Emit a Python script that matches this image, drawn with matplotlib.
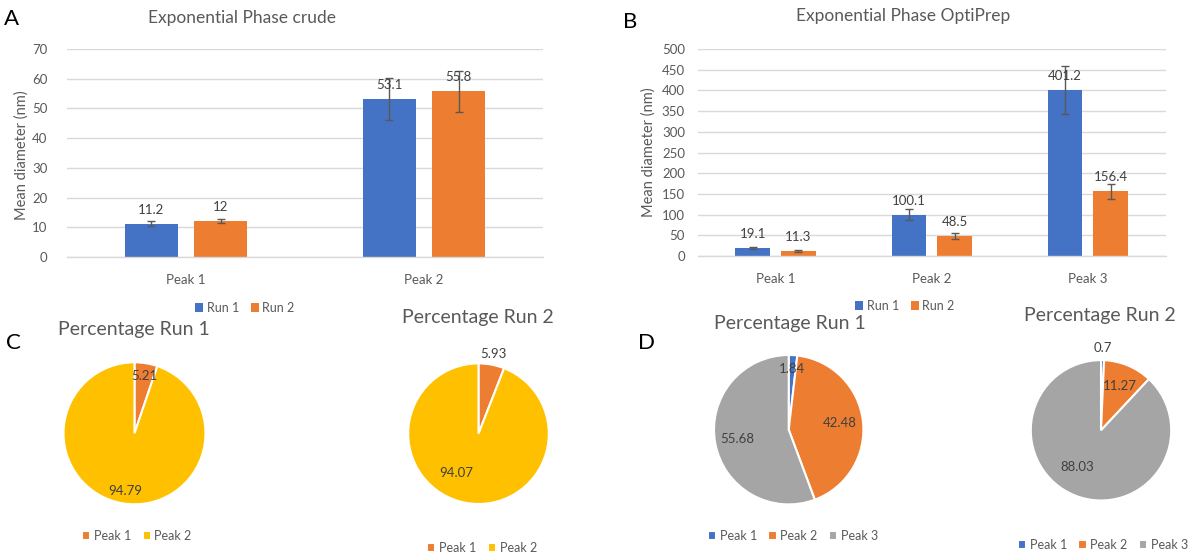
import numpy as np
import matplotlib
matplotlib.use('Agg')
import matplotlib.pyplot as plt

plt.rcParams['font.family'] = ['Lato', 'DejaVu Sans']

runs = ['Run 1', 'Run 2']

# mean diameter (nm) with error bars, crude prep
crude_peaks = ['Peak 1', 'Peak 2']
crude_run1 = [11.2, 53.1]
crude_run2 = [12, 55.8]
crude_err1 = [0.8, 7.0]
crude_err2 = [0.7, 6.9]

# mean diameter (nm) with error bars, OptiPrep
opti_peaks = ['Peak 1', 'Peak 2', 'Peak 3']
opti_run1 = [19.1, 100.1, 401.2]
opti_run2 = [11.3, 48.5, 156.4]
opti_err1 = [3, 13.5, 57]
opti_err2 = [2, 7, 18.5]

# percentage of each peak
crude_pct_run1 = [5.21, 94.79]
crude_pct_run2 = [5.93, 94.07]
opti_pct_run1 = [1.84, 42.48, 55.68]
opti_pct_run2 = [0.7, 11.27, 88.03]

BLUE = '#4472C4'
ORANGE = '#ED7D31'
YELLOW = '#FFC000'
GRAY = '#A5A5A5'
TEXT = '#595959'
DARK = '#404040'
GRID = '#D9D9D9'

W, H = 1192, 555
fig = plt.figure(figsize=(W / 100, H / 100), dpi=100)


def box(x0, y0, x1, y1):
    return [x0 / W, 1 - y1 / H, (x1 - x0) / W, (y1 - y0) / H]


def fxy(x, y):
    return x / W, 1 - y / H


def add_legend(handles, labels, xy):
    fig.legend(handles, labels, loc='center', bbox_to_anchor=fxy(*xy),
               ncol=len(labels), frameon=False, fontsize=9, handlelength=0.65,
               handleheight=0.65, handletextpad=0.3, columnspacing=0.9,
               labelcolor=TEXT)


def bar_panel(rect, peaks, v1, v2, e1, e2, ymax, step, title, title_xy,
              ylabel_xy, legend_xy, ypad):
    ax = fig.add_axes(box(*rect))
    x = np.arange(len(peaks))
    w, off = 0.222, 0.146
    b1 = ax.bar(x - off, v1, w, color=BLUE, zorder=2)
    b2 = ax.bar(x + off, v2, w, color=ORANGE, zorder=2)
    ax.errorbar(x - off, v1, yerr=e1, fmt='none', ecolor=TEXT, elinewidth=1,
                capsize=3, capthick=1, zorder=3)
    ax.errorbar(x + off, v2, yerr=e2, fmt='none', ecolor=TEXT, elinewidth=1,
                capsize=3, capthick=1, zorder=3)
    for bars, vals in ((b1, v1), (b2, v2)):
        for bar, v in zip(bars, vals):
            ax.annotate(f'{v:g}', (bar.get_x() + bar.get_width() / 2, v),
                        xytext=(0, 10), textcoords='offset points',
                        ha='center', va='center', fontsize=9.5, color=DARK,
                        zorder=4)
    ax.set_xlim(-0.5, len(peaks) - 0.5)
    ax.set_ylim(0, ymax)
    ax.set_yticks(np.arange(0, ymax + 1, step))
    ax.set_xticks(x)
    ax.set_xticklabels(peaks)
    ax.grid(axis='y', color=GRID, linewidth=1, zorder=0)
    ax.set_axisbelow(True)
    for s in ('top', 'right', 'left'):
        ax.spines[s].set_visible(False)
    ax.spines['bottom'].set_color(GRID)
    ax.spines['bottom'].set_linewidth(1)
    ax.tick_params(axis='both', length=0, labelsize=9.5, colors=TEXT)
    ax.tick_params(axis='y', pad=ypad)
    ax.tick_params(axis='x', pad=12)
    fig.text(*fxy(*title_xy), title, ha='center', va='center', fontsize=12.5,
             color=TEXT)
    fig.text(*fxy(*ylabel_xy), 'Mean diameter (nm)', ha='center', va='center',
             rotation=90, fontsize=10.5, color=TEXT)
    add_legend([b1, b2], runs, legend_xy)


def pie_panel(center, r, values, colors, labels, title, title_xy, legend_xy,
              label_r, label_turn):
    cx, cy = center
    pad = 1.03
    ax = fig.add_axes(box(cx - r * pad, cy - r * pad, cx + r * pad, cy + r * pad))
    wedges, _ = ax.pie(values, colors=colors, startangle=90, counterclock=False,
                       wedgeprops=dict(edgecolor='white', linewidth=1.5))
    ax.set_xlim(-pad, pad)
    ax.set_ylim(-pad, pad)
    for wdg, v, rr, turn in zip(wedges, values, label_r, label_turn):
        ang = np.deg2rad((wdg.theta1 + wdg.theta2) / 2 + turn)
        ax.text(rr * np.cos(ang), rr * np.sin(ang), f'{v:g}', ha='center',
                va='center', fontsize=9.5, color=DARK)
    fig.text(*fxy(*title_xy), title, ha='center', va='center', fontsize=14,
             color=TEXT)
    add_legend(wedges, labels, legend_xy)


bar_panel((67, 49, 543, 257), crude_peaks, crude_run1, crude_run2,
          crude_err1, crude_err2, 70, 10, 'Exponential Phase crude',
          (242, 18), (22, 155), (245, 308), 14)
bar_panel((697.5, 49, 1166, 256), opti_peaks, opti_run1, opti_run2,
          opti_err1, opti_err2, 500, 50, 'Exponential Phase OptiPrep',
          (903, 16), (649, 152), (905, 306), 9)

pie_panel((134.5, 433.3), 71, crude_pct_run1, [ORANGE, YELLOW], crude_peaks,
          'Percentage Run 1', (134, 330), (137, 536), [0.82, 0.83], [0, 0])
pie_panel((478.5, 433.7), 70.3, crude_pct_run2, [ORANGE, YELLOW], crude_peaks,
          'Percentage Run 2', (478.3, 318), (482, 548), [1.16, 0.64], [0, -19])
pie_panel((788.7, 429.7), 74.7, opti_pct_run1, [BLUE, ORANGE, GRAY], opti_peaks,
          'Percentage Run 1', (790, 323), (793, 536), [0.81, 0.69, 0.70], [0, 0, 0])
pie_panel((1101, 430.3), 70.2, opti_pct_run2, [BLUE, ORANGE, GRAY], opti_peaks,
          'Percentage Run 2', (1100.3, 315), (1103, 545), [1.17, 0.69, 0.62], [0, 0, -12])

for letter, xy in (('A', (11, 19)), ('B', (630, 22)), ('C', (13, 343)), ('D', (647, 343))):
    fig.text(*fxy(*xy), letter, ha='center', va='center', fontsize=16, color='black')

fig.savefig('out.png', dpi=100, facecolor='white')
